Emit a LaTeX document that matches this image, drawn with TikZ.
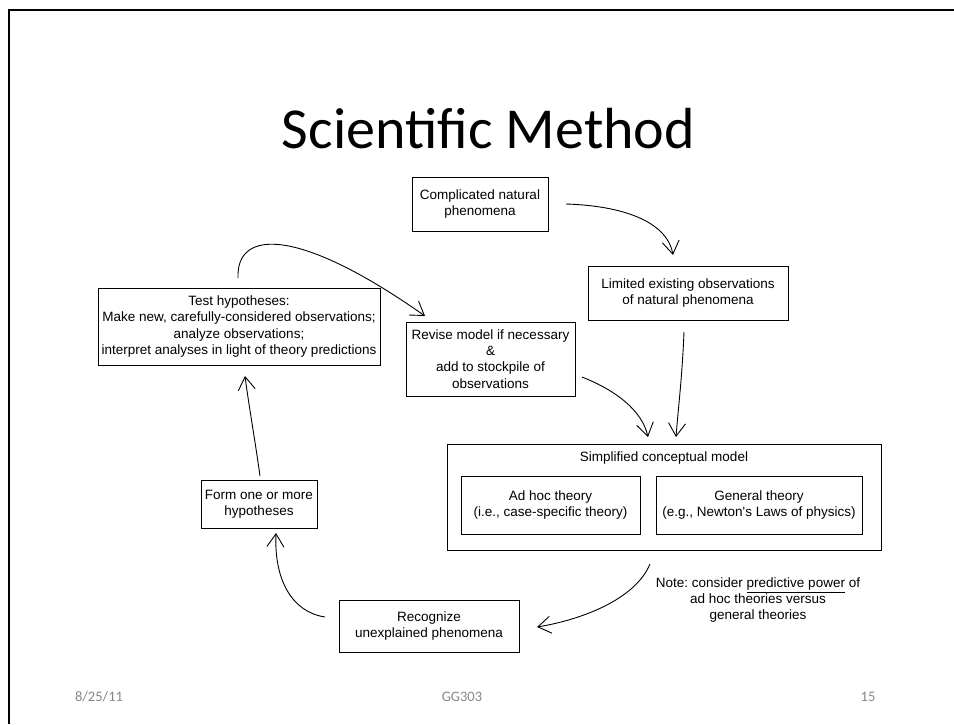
\documentclass[tikz,border=0pt]{standalone}
\usepackage{fontspec}
\setmainfont{Liberation Sans}
\newfontfamily\calib{Carlito}
\usetikzlibrary{arrows.meta}
\definecolor{footgray}{HTML}{888888}
\frenchspacing
\tikzset{
  box/.style={draw=black, line width=0.9pt, align=center, inner sep=0pt, font=\fontsize{13.5}{16.3}\selectfont},
  arr/.style={draw=black, line width=0.9pt, -{Straight Barb[length=13pt,width=17pt,line width=0.9pt]}},
  plain/.style={align=center, inner sep=0pt, font=\fontsize{13.5}{16}\selectfont},
  foot/.style={inner sep=0pt, text=footgray, font=\calib\fontsize{14.5}{16}\selectfont}
}
\begin{document}
\begin{tikzpicture}[x=1pt,y=-1pt]
\useasboundingbox (0,0) rectangle (954,724);
\fill[white] (0,0) rectangle (954,724);
\draw[line width=2pt] (954,10) -- (9,10) -- (9,724);
\node[inner sep=0pt, anchor=base, font=\calib\fontsize{58}{62}\selectfont] (title) at (488.5,148) {Scientific Method};

\node[box, minimum width=136pt, minimum height=54pt] (cnp) at (480,204) {Complicated natural\\phenomena};
\node[box, minimum width=200pt, minimum height=54pt] (leo) at (688,293) {Limited existing observations\\of natural phenomena};
\node[box, minimum width=169pt, minimum height=74pt] (rev) at (490.5,359) {Revise model if necessary\\\&\\add to stockpile of\\observations};
\node[box, minimum width=282pt, minimum height=77pt] (test) at (239,326.5) {Test hypotheses:\\Make new, carefully-considered observations;\\analyze observations;\\interpret analyses in light of theory predictions};
\node[box, minimum width=434pt, minimum height=106pt] (scm) at (664,497) {};
\node[plain] (scmt) at (664,458) {Simplified conceptual model};
\node[box, minimum width=179pt, minimum height=58pt] (adhoc) at (550.5,505) {Ad hoc theory\\(i.e., case-specific theory)};
\node[box, minimum width=206pt, minimum height=58pt] (gen) at (759,505) {General theory\\(e.g., Newton\textquotesingle s Laws of physics)};
\node[box, minimum width=116pt, minimum height=48pt] (form) at (259,504) {Form one or more\\hypotheses};
\node[box, minimum width=180pt, minimum height=52pt] (rec) at (429,626) {Recognize\\unexplained phenomena};
\node[plain] (note) at (758,600) {Note: consider \underline{predictive power} of\\ad hoc theories versus\\general theories};

\coordinate (a1s) at (566,204); \coordinate (a1e) at (673,255);
\coordinate (a2s) at (684,332); \coordinate (a2e) at (676,437);
\coordinate (a3s) at (582,377); \coordinate (a3e) at (648,437);
\coordinate (a4s) at (238,278); \coordinate (a4e) at (425,316);
\coordinate (a5s) at (260,476); \coordinate (a5e) at (245,376);
\coordinate (a6s) at (325,617); \coordinate (a6e) at (276,533);
\coordinate (a7s) at (650,564); \coordinate (a7e) at (537,627);

\draw[arr] (a1s) .. controls (630,206) and (668,225) .. (a1e);
\draw[arr] (a2s) .. controls (682,380) and (678,410) .. (a2e);
\draw[arr] (a3s) .. controls (615,390) and (642,410) .. (a3e);
\draw[arr] (a4s) .. controls (236,228) and (300,228) .. (a4e);
\draw[arr] (a5s) .. controls (255,440) and (248,400) .. (a5e);
\draw[arr] (a6s) .. controls (292,612) and (274,580) .. (a6e);
\draw[arr] (a7s) .. controls (635,600) and (580,620) .. (a7e);

\node[foot] (f1) at (99,697) {8/25/11};
\node[foot] (f2) at (462,697) {GG303};
\node[foot] (f3) at (868,697) {15};
\end{tikzpicture}
\end{document}
